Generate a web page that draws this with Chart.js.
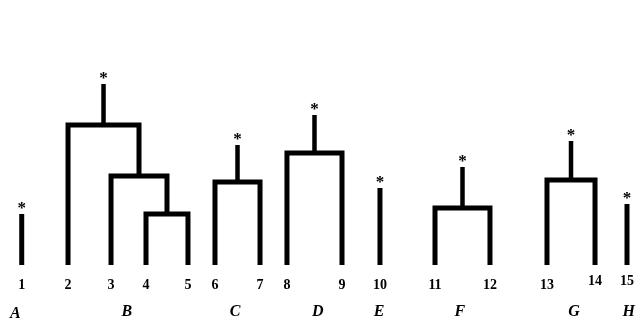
<!DOCTYPE html>
<html>
<head>
<meta charset="utf-8">
<script src="https://cdn.jsdelivr.net/npm/chart.js@4"></script>
<style>
  body { margin: 0; background: #fff; }
  #wrap { width: 637px; height: 323px; position: relative; }
</style>
</head>
<body>
<div id="wrap"><canvas id="tree"></canvas></div>
<script>
// leaves (x in 0..100 units, left to right)
const leafLabels = ["1","2","3","4","5","6","7","8","9","10","11","12","13","14","15"];
const leafPos = [3.41, 10.68, 17.43, 22.92, 29.51, 33.75, 40.82, 45.05, 53.69, 59.65, 68.29, 76.92, 85.87, 93.41, 98.43];
// height of a lone leaf (0 when the leaf is joined to others)
const leafHeight = [2.55, 0, 0, 0, 0, 0, 0, 0, 0, 3.85, 0, 0, 0, 0, 3.05];

// merges: node ids 0..14 are leaves, merge k gets id 15+k
const mergeLeft = [3, 2, 1, 5, 7, 10, 12];
const mergeRight = [4, 15, 16, 6, 8, 11, 13];
const mergeHeight = [2.55, 4.45, 7.0, 4.15, 5.6, 2.85, 4.25];

// groups with the starred stem on top
const groupLabels = ["A","B","C","D","E","F","G","H"];
const groupRoot = [0, 17, 18, 19, 9, 20, 21, 14];
const groupTop = [2.55, 9.05, 6.0, 7.5, 3.85, 4.9, 6.2, 3.05];
const groupLabelPos = [2.4, 19.9, 36.9, 49.9, 59.5, 72.2, 90.1, 98.7];

const ink = "#000";

// node positions / heights
const nodeX = leafPos.slice();
const nodeH = leafHeight.slice();
for (let k = 0; k < mergeLeft.length; k++) {
    nodeX.push((nodeX[mergeLeft[k]] + nodeX[mergeRight[k]]) / 2);
    nodeH.push(mergeHeight[k]);
}

const datasets = [];
for (let k = 0; k < mergeLeft.length; k++) {
    let l = mergeLeft[k], r = mergeRight[k], h = mergeHeight[k];
    datasets.push({
        data: [{x: nodeX[l], y: nodeH[l]}, {x: nodeX[l], y: h}, {x: nodeX[r], y: h}, {x: nodeX[r], y: nodeH[r]}],
        borderWidth: 5
    });
}
for (let g = 0; g < groupRoot.length; g++) {
    let n = groupRoot[g];
    let bottom = n < leafLabels.length ? 0 : nodeH[n];
    datasets.push({
        data: [{x: nodeX[n], y: bottom}, {x: nodeX[n], y: groupTop[g]}],
        borderWidth: n < leafLabels.length ? 5 : 4.5
    });
}
datasets.forEach(function(d) {
    d.showLine = true;
    d.borderColor = ink;
    d.pointRadius = 0;
    d.borderJoinStyle = "miter";
    d.borderCapStyle = "butt";
    d.clip = false;
});

const labelsPlugin = {
    id: "treeLabels",
    afterDraw(chart) {
        const ctx = chart.ctx, xs = chart.scales.x, ys = chart.scales.y;
        const base = ys.getPixelForValue(0);
        ctx.save();
        ctx.fillStyle = ink;
        ctx.textAlign = "center";
        ctx.textBaseline = "alphabetic";
        // stars
        ctx.font = "bold 17px 'Liberation Serif'";
        for (let g = 0; g < groupRoot.length; g++) {
            ctx.fillText("*", xs.getPixelForValue(nodeX[groupRoot[g]]), ys.getPixelForValue(groupTop[g]) - 1);
        }
        // leaf numbers
        ctx.font = "bold 14px 'Liberation Serif'";
        leafLabels.forEach(function(t, i) {
            let lift = i >= 13 ? 4 : 0;
            ctx.fillText(t, xs.getPixelForValue(leafPos[i]), base + 24 - lift);
        });
        // group letters
        ctx.font = "italic bold 16px 'Liberation Serif'";
        groupLabels.forEach(function(t, g) {
            ctx.fillText(t, xs.getPixelForValue(groupLabelPos[g]), base + 51 + (g === 0 ? 2 : 0));
        });
        ctx.restore();
    }
};

new Chart(document.getElementById("tree"), {
    type: "scatter",
    data: { datasets: datasets },
    options: {
        responsive: true,
        maintainAspectRatio: false,
        animation: false,
        events: [],
        layout: { padding: { top: 65, bottom: 58, left: 0, right: 0 } },
        scales: {
            x: { type: "linear", min: 0, max: 100, display: false },
            y: { type: "linear", min: 0, max: 10, display: false }
        },
        plugins: { legend: { display: false }, tooltip: { enabled: false } }
    },
    plugins: [labelsPlugin]
});
</script>
</body>
</html>
